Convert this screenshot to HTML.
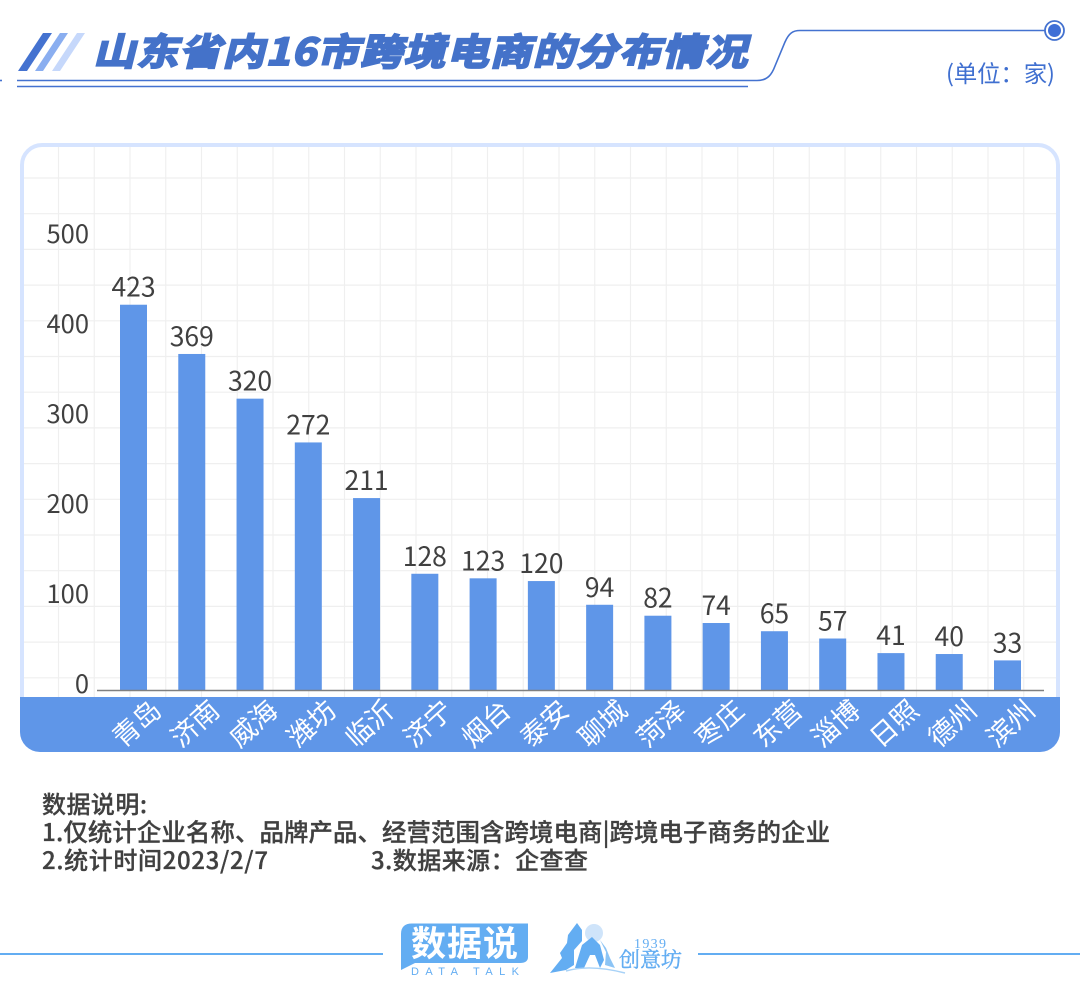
<!DOCTYPE html>
<html lang="zh">
<head>
<meta charset="utf-8">
<title>山东省内16市跨境电商的分布情况</title>
<style>
html,body{margin:0;padding:0;background:#fff;width:1080px;height:986px;overflow:hidden}
svg{display:block}
text{font-family:"Noto Sans CJK SC","Liberation Sans",sans-serif}
</style>
</head>
<body>
<svg id="chart" xmlns="http://www.w3.org/2000/svg" width="1080" height="986" viewBox="0 0 1080 986">
  <rect width="1080" height="986" fill="#ffffff"/>

  <g>
    <polygon points="18,71 27,71 52,33 43,33" fill="#4472d0"/>
    <polygon points="35,71 43,71 68,33 60,33" fill="#8aaef0"/>
    <polygon points="52,71 60,71 85,33 77,33" fill="#c6d8fb"/>
    <text transform="translate(93,65) skewX(-14) scale(1.14,1)" font-size="37" font-weight="700" fill="#4472c9" stroke="#4472c9" stroke-width="2" textLength="574" lengthAdjust="spacing">山东省内16市跨境电商的分布情况</text>
    <path d="M17,80.5 H757 C768,80.5 772,74 775,66 L785,42 C789,33 793,30.5 800,30.5 H1045" fill="none" stroke="#4472d0" stroke-width="1.6"/>
    <path d="M17,86.5 H748" fill="none" stroke="#4472d0" stroke-width="1.6"/>
    <path d="M0,80.5 H2" fill="none" stroke="#4472d0" stroke-width="1.6"/>
    <circle cx="1054.500" cy="30.500" r="9.500" fill="#ffffff" stroke="#4472d0" stroke-width="1.800"/>
    <circle cx="1054.500" cy="30.500" r="6.500" fill="#3f6fd6"/>
    <text x="946" y="82" font-size="23.500" fill="#3f6fd0" textLength="109">(单位&#xFF1A;家)</text>
  </g>

  <g>
    <rect x="22" y="145" width="1036" height="605" rx="20" ry="20" fill="#ffffff" stroke="#d6e4ff" stroke-width="4"/>
    <g id="grid"></g>
    <path d="M20,697 H1060 V732 A20,20 0 0 1 1040,752 H40 A20,20 0 0 1 20,732 Z" fill="#5f96e8"/>
    <g id="yTicks"></g>
    <g id="bars"></g>
    <line x1="97" x2="1044" y1="690.500" y2="690.500" stroke="#808080" stroke-width="1.600"/>
    <g id="barLabels"></g>
    <g id="xLabels"></g>
  </g>

  <g>
    <text x="42" y="813" font-weight="500" font-size="24" fill="#404040" stroke="#404040" stroke-width="0.3" textLength="105">数据说明:</text>
    <text x="42" y="841" font-weight="500" font-size="24.400" fill="#404040" stroke="#404040" stroke-width="0.3" textLength="788">1.仅统计企业名称、品牌产品、经营范围含跨境电商|跨境电子商务的企业</text>
    <text x="42" y="869" font-weight="500" font-size="24" fill="#404040" stroke="#404040" stroke-width="0.3" textLength="226">2.统计时间2023/2/7</text>
    <text x="371" y="869" font-weight="500" font-size="24" fill="#404040" stroke="#404040" stroke-width="0.3" textLength="217">3.数据来源&#xFF1A;企查查</text>
  </g>

  <g>
    <line x1="0" x2="383" y1="954" y2="954" stroke="#63adf2" stroke-width="2"/>
    <line x1="698" x2="1080" y1="954" y2="954" stroke="#63adf2" stroke-width="2"/>
    <path d="M412,923.500 H528 V957 Q528,963 520,963 H415 L401,970 V934 Q401,923.500 412,923.500 Z" fill="#63adf2"/>
    <text x="411" y="956" font-size="35" font-weight="700" fill="#ffffff" textLength="107">数据说</text>
    <text x="411" y="975" font-size="11" fill="#63adf2" textLength="108" style="font-family:'Liberation Sans',sans-serif">DATA TALK</text>
    <g>
      <circle cx="594" cy="933" r="9" fill="#cfe4fa"/>
      <polygon points="550,973 562,958 560,953 567,943 568,935 577,923 582,930 582,941 574,950 574,965 566,970" fill="#63adf2"/>
      <polygon points="575,968 582,945 592,937 600,945 604,960 600,968 595,955 590,955 584,968" fill="#63adf2"/>
      <polygon points="600,940 606,948 610,958 615,968 605,965 606,952" fill="#8cc4f5"/>
      <path d="M566,971 Q590,964 625,973" fill="none" stroke="#a8d2f7" stroke-width="1.500"/>
      <text x="634" y="948" font-size="14" fill="#63adf2" textLength="32" style="font-family:'Liberation Serif',serif">1939</text>
      <text x="619" y="967" font-size="21" fill="#63adf2" stroke="#63adf2" stroke-width="0.4" textLength="63" style="font-family:'Noto Serif CJK SC',serif">创意坊</text>
    </g>
  </g>
</svg>
<script>
// Chart data
const cities = ['青岛','济南','威海','潍坊','临沂','济宁','烟台','泰安','聊城','菏泽','枣庄','东营','淄博','日照','德州','滨州'];
const companyCounts = [423,369,320,272,211,128,123,120,94,82,74,65,57,41,40,33];
const yTickValues = [0,100,200,300,400,500];

// Axis functions
const NS = 'http://www.w3.org/2000/svg';
const firstCenter = 133.5, lastCenter = 1007.5, baseline = 690.5, pxPerUnit = 0.912, barWidth = 27;
const tickZero = 693, tickPxPerUnit = 0.9;
function xScale(i){ return firstCenter + i * (lastCenter - firstCenter) / (cities.length - 1); }
function yScale(v){ return baseline - v * pxPerUnit; }
function yTickScale(v){ return tickZero - v * tickPxPerUnit; }
function make(tag, attrs, text){
  const el = document.createElementNS(NS, tag);
  for (const k in attrs) el.setAttribute(k, attrs[k]);
  if (text !== undefined) el.textContent = text;
  return el;
}

// Background grid
const grid = document.getElementById('grid');
for (let x = 58.5; x < 1056; x += 35.75) {
  const line = make('line', {x1:x, x2:x, y1:147, y2:697, stroke:'#efefef', 'stroke-width':1.2});
  
  
  grid.appendChild(line);
}
for (let y = 178; y < 697; y += 35.7) {
  const line = make('line', {x1:24, x2:1056, y1:y, y2:y, stroke:'#efefef', 'stroke-width':1.2});
  
  
  grid.appendChild(line);
}

// Y-axis tick labels
const yGroup = document.getElementById('yTicks');
yTickValues.forEach(function(t){
  const label = make('text', {x:89, y:yTickScale(t), 'text-anchor':'end', 'font-size':25.5, fill:'#404040'}, t);
  
  
  yGroup.appendChild(label);
});

// Bars, printed values and category labels
const barGroup = document.getElementById('bars');
const valueGroup = document.getElementById('barLabels');
const xGroup = document.getElementById('xLabels');
companyCounts.forEach(function(v, i){
  const cx = xScale(i), top = yScale(v);
  const bar = make('rect', {x:cx - barWidth / 2, y:top, width:barWidth, height:baseline - top, fill:'#5f96e8'});
  
  
  barGroup.appendChild(bar);

  const value = make('text', {x:cx, y:top - 8, 'text-anchor':'middle', 'font-size':26.5, fill:'#404040'}, v);
  
  
  valueGroup.appendChild(value);

  const tick = make('text', {x:0, y:9, 'text-anchor':'middle', 'font-size':27, fill:'#ffffff', transform:'translate(' + (cx + 3.5) + ',724) rotate(-42)'}, cities[i]);
  
  
  xGroup.appendChild(tick);
});
</script>
</body>
</html>
